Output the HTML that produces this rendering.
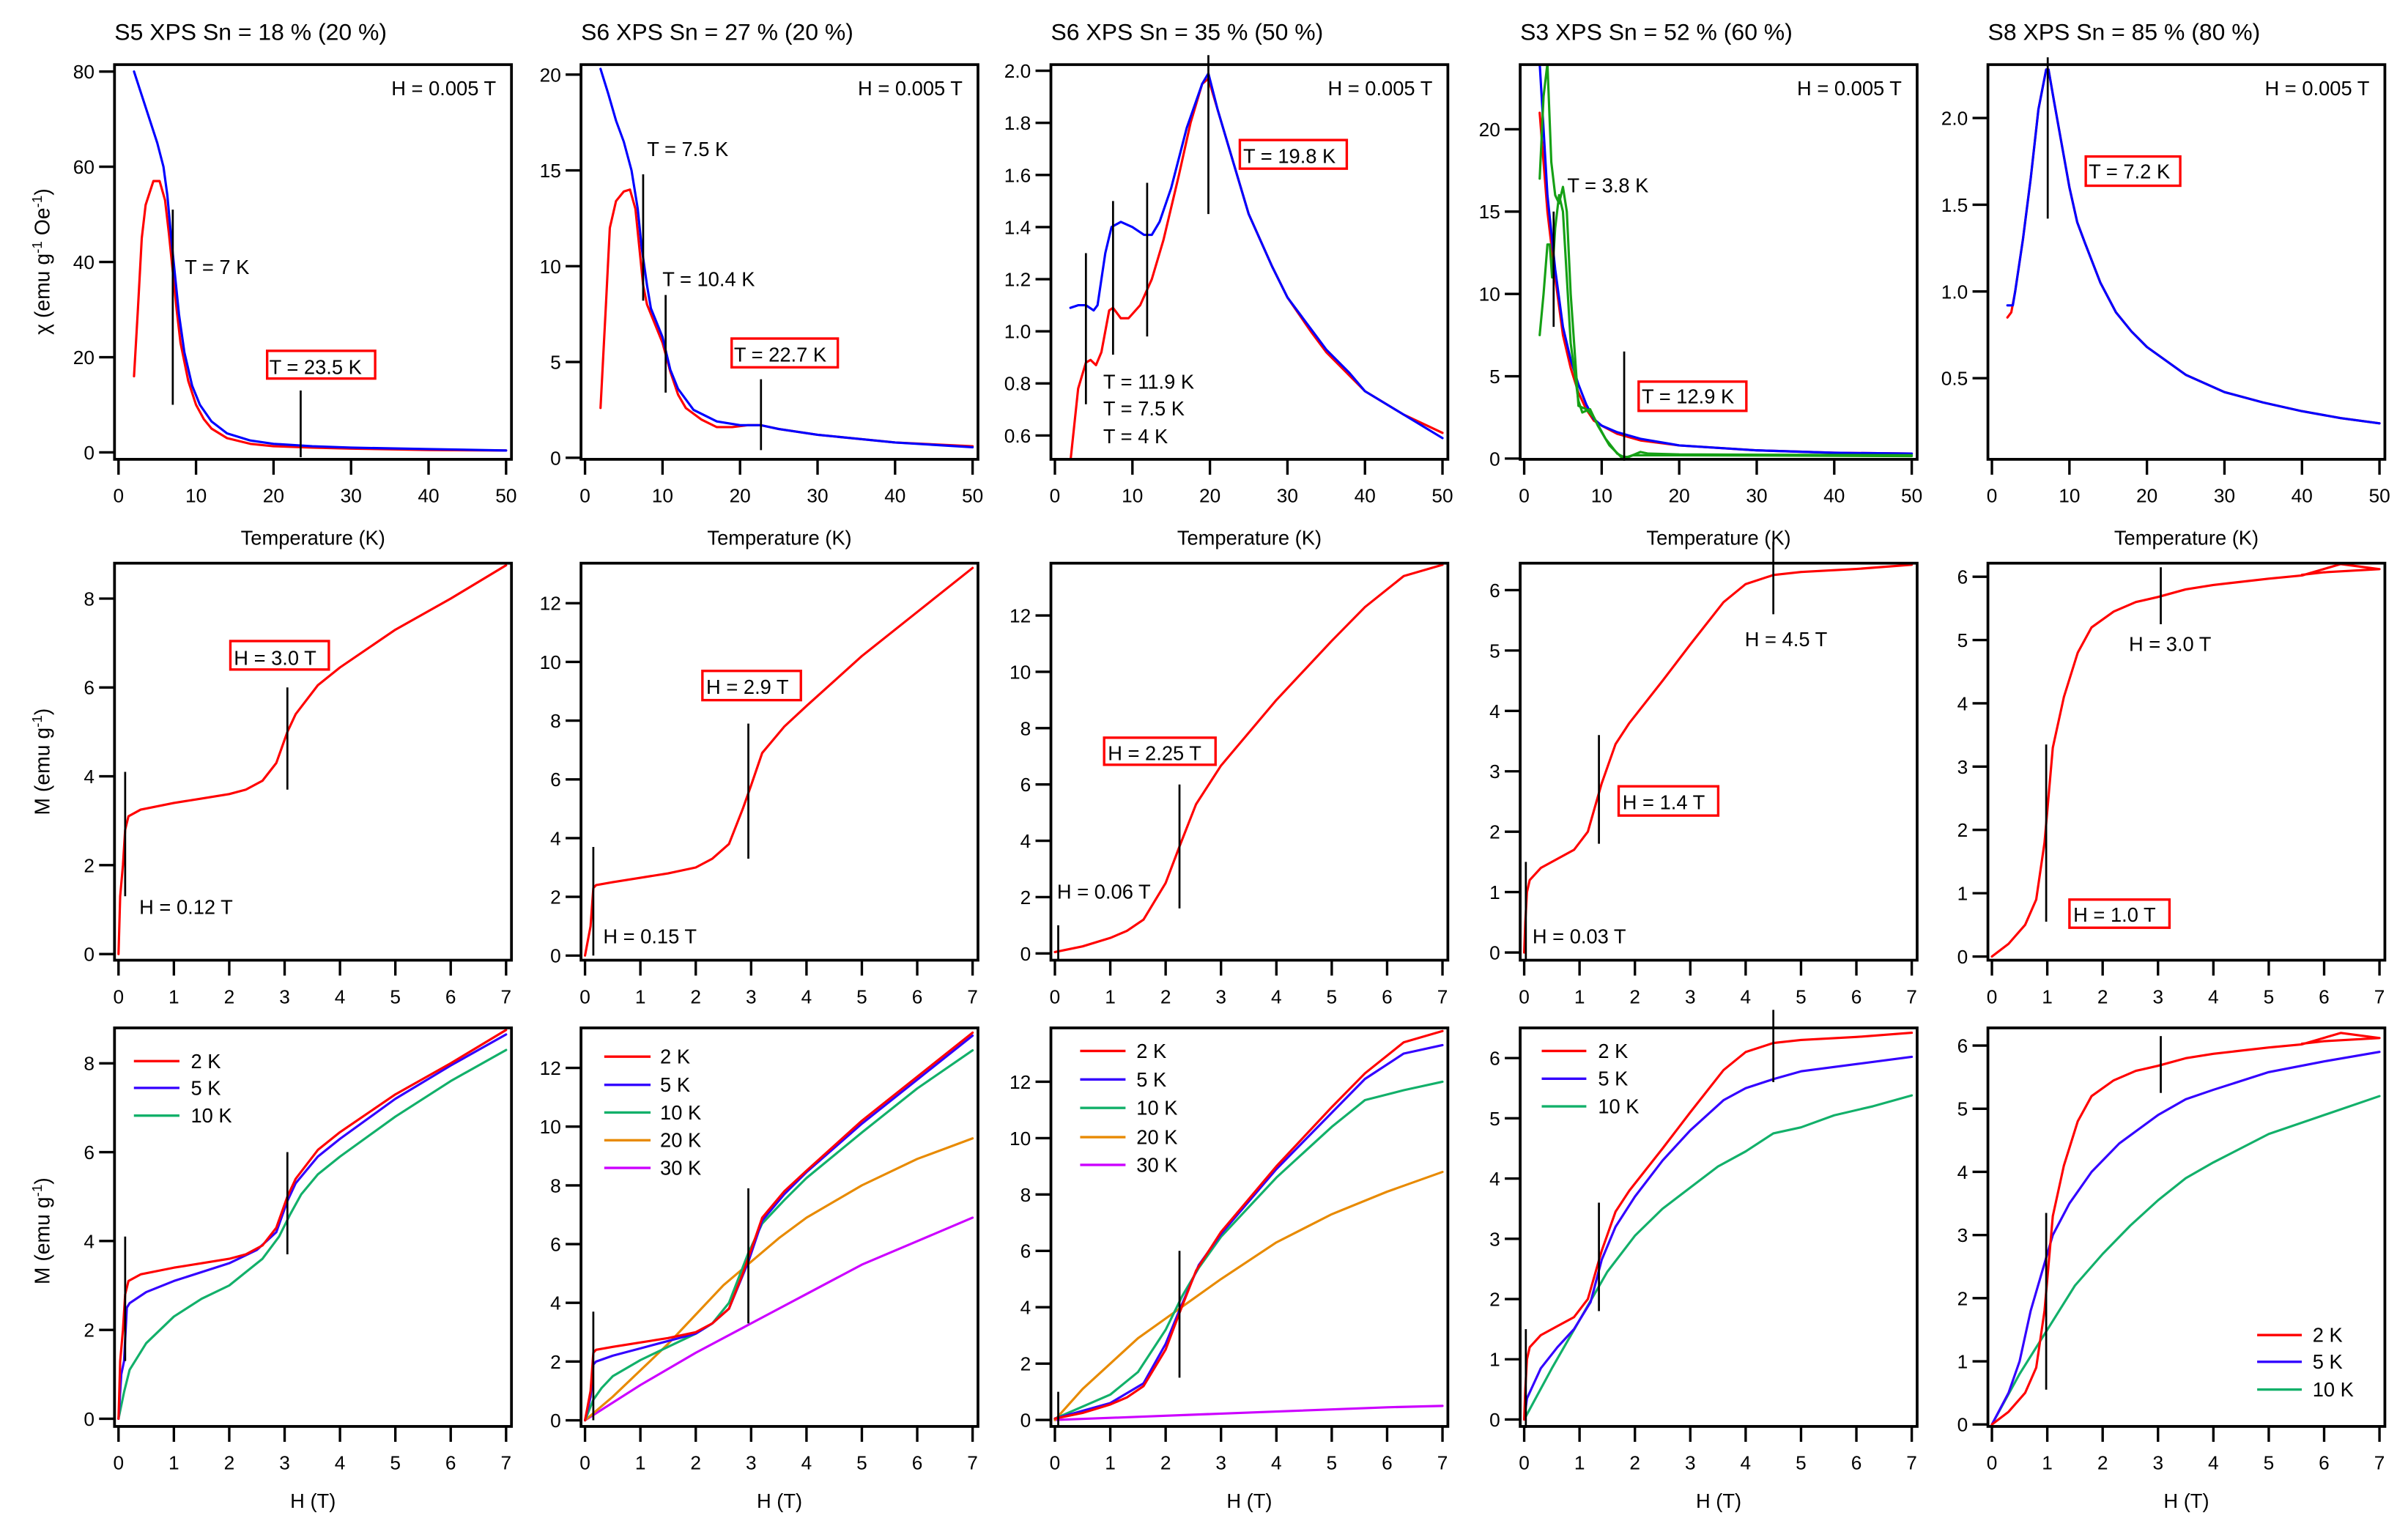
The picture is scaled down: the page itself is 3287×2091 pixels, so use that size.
<!DOCTYPE html>
<html><head><meta charset="utf-8"><style>
html,body{margin:0;padding:0;background:#fff;}
svg{display:block;}
text{font-family:"Liberation Sans",sans-serif;fill:#000;}
</style></head><body>
<svg id="fig" xmlns="http://www.w3.org/2000/svg" width="3287" height="2091" viewBox="0 0 1565 995.6"></svg>
<script>
// ---------- data ----------
const titles = ["S5 XPS Sn = 18 % (20 %)","S6 XPS Sn = 27 % (20 %)","S6 XPS Sn = 35 % (50 %)","S3 XPS Sn = 52 % (60 %)","S8 XPS Sn = 85 % (80 %)"];
// Row 1: chi vs T
const chiC1Red=[[2,16],[2.5,30],[3,45],[3.5,52],[4.5,57],[5.3,57],[6,53],[6.5,46],[7,38],[7.5,30],[8,23],[9,15],[10,10],[11,7],[12,5],[14,3],[17,1.8],[20,1.3],[25,1],[30,0.8],[40,0.5],[50,0.4]];
const chiC1Blue=[[2,80],[3,75],[4,70],[5,65],[5.8,60],[6.3,54],[6.8,45],[7.3,37],[7.8,29],[8.5,21],[9.5,14],[10.5,10],[12,6.5],[14,4],[17,2.5],[20,1.8],[25,1.3],[30,1],[40,0.7],[50,0.4]];
const chiC2Red=[[2,2.6],[2.7,8],[3.2,12],[4,13.4],[5,13.9],[5.8,14],[6.5,13],[7,11],[7.5,9],[8,8],[9,7],[10,6],[11,4.5],[12,3.3],[13,2.6],[15,2],[17,1.6],[19,1.6],[21,1.7],[22.7,1.7],[25,1.5],[30,1.2],[35,1],[40,0.8],[50,0.6]];
const chiC2Blue=[[2,20.3],[3,19],[4,17.6],[5,16.5],[6,15],[6.8,13],[7.3,11],[8,9],[8.5,7.8],[10,6.3],[11,4.6],[12,3.6],[14,2.5],[17,1.9],[20,1.7],[22.7,1.7],[25,1.5],[30,1.2],[35,1],[40,0.8],[50,0.55]];
const chiC3Red=[[2,0.5],[3,0.78],[4,0.88],[4.6,0.89],[5.3,0.87],[6,0.92],[7,1.08],[7.5,1.09],[8.5,1.05],[9.5,1.05],[11,1.1],[12.5,1.2],[14,1.35],[16,1.6],[17.5,1.8],[19,1.95],[19.8,1.97],[21,1.85],[23,1.65],[25,1.45],[28,1.25],[30,1.13],[33,1],[35,0.92],[38,0.83],[40,0.77],[45,0.68],[50,0.61]];
const chiC3Blue=[[2,1.09],[3,1.1],[4,1.1],[5,1.08],[5.5,1.1],[6.5,1.3],[7.3,1.4],[8.5,1.42],[10,1.4],[11.5,1.37],[12.5,1.37],[13.5,1.42],[15,1.55],[17,1.78],[19,1.95],[19.8,1.99],[21,1.85],[23,1.65],[25,1.45],[28,1.25],[30,1.13],[33,1.01],[35,0.93],[38,0.84],[40,0.77],[45,0.68],[50,0.59]];
const chiC4Red=[[2,21],[2.5,18],[3,15],[4,11],[5,7.5],[6,5.5],[7,4],[8,3],[9,2.3],[10,2],[12,1.5],[15,1.1],[20,0.8],[30,0.5],[40,0.35],[50,0.3]];
const chiC4Blue=[[2,24],[2.5,20],[3,16],[4,11.5],[5,8],[6,6],[7,4.5],[8,3.3],[9,2.4],[10,2],[12,1.6],[15,1.2],[20,0.8],[30,0.5],[40,0.35],[50,0.3]];
const chiC4GreenA=[[2,7.5],[2.5,10],[3,13],[3.3,13],[3.6,11],[4,14],[4.5,16],[5,15],[5.5,11],[6,7],[7,3.5],[7.5,2.8],[8.5,3],[9.5,2],[11,0.8],[12.5,0.1],[13.5,0.1],[15,0.4],[16,0.3],[20,0.25],[50,0.2]];
const chiC4GreenB=[[2,17],[2.5,22],[3,24],[3.5,18],[4,16],[4.5,15.5],[5,16.5],[5.5,15],[6,10],[7,3.2],[8,3],[9,2.5],[10.5,1.2],[12,0.3],[13,0.05],[14,0.2],[20,0.2],[50,0.15]];
const chiC5Red=[[2,0.85],[2.5,0.88],[3,1],[4,1.3],[5,1.65],[6,2.05],[7,2.28],[7.3,2.28],[8,2.1],[9,1.85],[10,1.6],[11,1.4],[12,1.28],[14,1.05],[16,0.88],[18,0.77],[20,0.68],[25,0.52],[30,0.42],[35,0.36],[40,0.31],[45,0.27],[50,0.24]];
const chiC5Blue=[[2,0.92],[2.7,0.92],[3,1],[4,1.3],[5,1.65],[6,2.05],[7,2.28],[7.3,2.28],[8,2.1],[9,1.85],[10,1.6],[11,1.4],[12,1.28],[14,1.05],[16,0.88],[18,0.77],[20,0.68],[25,0.52],[30,0.42],[35,0.36],[40,0.31],[45,0.27],[50,0.24]];
// Rows 2-3: M vs H
const mC1Red=[[0,0],[0.03,1.3],[0.08,2],[0.12,2.8],[0.18,3.1],[0.4,3.25],[1,3.4],[1.5,3.5],[2,3.6],[2.3,3.7],[2.6,3.9],[2.85,4.3],[3.05,5],[3.2,5.4],[3.6,6.05],[4,6.45],[5,7.3],[6,8],[7,8.75]];
const mC1Blue=[[0,0],[0.05,1],[0.1,1.3],[0.15,2.5],[0.2,2.6],[0.5,2.85],[1,3.1],[2,3.5],[2.5,3.8],[2.85,4.2],[3.05,4.9],[3.2,5.3],[3.6,5.9],[4,6.3],[5,7.2],[6,7.95],[7,8.65]];
const mC1Green=[[0,0],[0.1,0.6],[0.2,1.1],[0.5,1.7],[1,2.3],[1.5,2.7],[2,3],[2.3,3.3],[2.6,3.6],[2.9,4.1],[3.1,4.6],[3.3,5.05],[3.6,5.5],[4,5.9],[5,6.8],[6,7.6],[7,8.3]];
const mC2Red=[[0,0],[0.05,0.5],[0.1,1],[0.15,2.3],[0.2,2.4],[0.5,2.5],[1,2.65],[1.5,2.8],[2,3],[2.3,3.3],[2.6,3.8],[2.85,5],[3,5.8],[3.2,6.9],[3.6,7.8],[4,8.5],[5,10.2],[6,11.7],[7,13.2]];
const mC2Blue=[[0,0],[0.1,0.8],[0.15,1.9],[0.2,2],[0.5,2.2],[1,2.45],[1.5,2.7],[2,2.95],[2.3,3.3],[2.6,3.8],[2.95,5.4],[3.2,6.8],[3.6,7.7],[4,8.45],[5,10.1],[6,11.6],[7,13.1]];
const mC2Green=[[0,0],[0.15,0.7],[0.3,1.1],[0.5,1.5],[1,2.05],[1.5,2.5],[2,2.95],[2.3,3.3],[2.6,4],[2.95,5.7],[3.2,6.7],[3.6,7.5],[4,8.25],[5,9.8],[6,11.3],[7,12.6]];
const mC2Orange=[[0,0],[0.5,0.8],[1,1.7],[1.5,2.6],[2,3.6],[2.5,4.6],[3,5.4],[3.5,6.2],[4,6.9],[5,8],[6,8.9],[7,9.6]];
const mC2Purple=[[0,0],[1,1.2],[2,2.3],[3,3.3],[4,4.3],[5,5.3],[6,6.1],[7,6.9]];
const mC3Red=[[0,0.05],[0.5,0.25],[1,0.55],[1.3,0.8],[1.6,1.2],[2,2.5],[2.25,3.8],[2.55,5.3],[3,6.67],[4,9],[5,11.1],[5.6,12.3],[6.3,13.4],[7,13.8]];
const mC3Blue=[[0,0.05],[1,0.6],[1.6,1.3],[2,2.7],[2.25,3.9],[2.6,5.5],[3,6.6],[4,8.9],[5,10.9],[5.6,12.1],[6.3,13],[7,13.3]];
const mC3Green=[[0,0.05],[1,0.9],[1.5,1.7],[2,3.2],[2.3,4.4],[2.6,5.4],[3,6.5],[4,8.6],[5,10.4],[5.6,11.35],[6.3,11.7],[7,12]];
const mC3Orange=[[0,0],[0.5,1.1],[1,2],[1.5,2.9],[2,3.6],[2.5,4.3],[3,5],[4,6.3],[5,7.3],[6,8.1],[7,8.8]];
const mC3Purple=[[0,0],[2,0.15],[4,0.3],[6,0.45],[7,0.5]];
const mC4Red=[[0,0],[0.02,0.5],[0.05,1],[0.1,1.2],[0.3,1.4],[0.6,1.55],[0.9,1.7],[1.15,2],[1.4,2.8],[1.65,3.45],[1.9,3.8],[2.5,4.5],[3,5.1],[3.6,5.8],[4,6.1],[4.5,6.25],[5,6.3],[6,6.35],[7,6.42]];
const mC4Blue=[[0,0],[0.05,0.35],[0.15,0.55],[0.3,0.85],[0.6,1.2],[0.9,1.5],[1.2,1.95],[1.4,2.65],[1.65,3.2],[2,3.7],[2.5,4.3],[3,4.8],[3.6,5.3],[4,5.5],[4.5,5.65],[5,5.78],[6,5.9],[7,6.02]];
const mC4Green=[[0,0],[0.5,0.85],[1,1.65],[1.5,2.45],[2,3.05],[2.5,3.5],[3,3.85],[3.5,4.2],[4,4.45],[4.5,4.75],[5,4.85],[5.6,5.05],[6.3,5.2],[7,5.38]];
const mC5Red=[[0,0],[0.3,0.2],[0.6,0.5],[0.8,0.9],[0.95,1.8],[1.0,2.3],[1.1,3.3],[1.3,4.1],[1.55,4.8],[1.8,5.2],[2.2,5.45],[2.6,5.6],[3.0,5.68],[3.5,5.8],[4,5.87],[5,5.97],[5.6,6.02],[6.3,6.2],[7,6.12],[6,6.07],[5.6,6.03]];
const mC5Blue=[[0,0],[0.3,0.5],[0.5,1],[0.7,1.8],[0.9,2.4],[1.1,3],[1.4,3.5],[1.8,4],[2.3,4.45],[3,4.9],[3.5,5.15],[4,5.3],[5,5.58],[6,5.75],[7,5.9]];
const mC5Green=[[0,0],[0.5,0.8],[1,1.5],[1.5,2.2],[2,2.7],[2.5,3.15],[3,3.55],[3.5,3.9],[4,4.15],[5,4.6],[6,4.9],[7,5.2]];
const tempTicks=[0,10,20,30,40,50];
const fieldTicks=[0,1,2,3,4,5,6,7];

// ---------- layout ----------
const NS="http://www.w3.org/2000/svg";
const svg=document.getElementById('fig');
const colL=[74.4,377.6,683,988,1292];
const rowF=[[42,298.5],[366,624],[668,927]];
const RED="#ff0000",BLUE="#0000ff",BLUE2="#3300ff",GREEN="#12b06a",DGREEN="#15a015",ORANGE="#e88a00",PURPLE="#cc00ff";
function mk(tag,attrs,parent){const e=document.createElementNS(NS,tag);for(const k in attrs)e.setAttribute(k,attrs[k]);(parent||svg).appendChild(e);return e;}
function txt(s,x,y,size,anchor,parent){const t=mk('text',{x:x,y:y,'font-size':size,'text-anchor':anchor||'start'},parent);t.textContent=s;return t;}

function panel(c,r,cfg){
  const g=mk('g',{});
  
  
  const L=colL[c],R=L+258,T=rowF[r][0],B=rowF[r][1];
  const x0=L+2.6,x1=L+254.5,xmax=cfg.xmax;
  const X=v=>x0+(x1-x0)*v/xmax;
  const Y=v=>cfg.pA+(cfg.pB-cfg.pA)*(v-cfg.yA)/(cfg.yB-cfg.yA);
  const cid='clip'+r+c;
  const cp=mk('clipPath',{id:cid},g);mk('rect',{x:L,y:T,width:258,height:B-T},cp);
  // ticks
  const xt=mk('g',{},g);
  
  
  (r===0?tempTicks:fieldTicks).forEach(v=>{
    mk('line',{x1:X(v),x2:X(v),y1:B,y2:B+10,stroke:'#000','stroke-width':1.6},xt);
    const tl=txt(String(v),X(v),B+28,12.5,'middle',xt);
    
    
  });
  const yt=mk('g',{},g);
  
  
  cfg.yt.forEach(v=>{
    mk('line',{x1:L-10,x2:L,y1:Y(v),y2:Y(v),stroke:'#000','stroke-width':1.6},yt);
    const tl=txt(cfg.dec?v.toFixed(cfg.dec):String(v),L-13,Y(v)+4.5,12.5,'end',yt);
    
    
  });
  // series
  const sg=mk('g',{'clip-path':'url(#'+cid+')'},g);
  cfg.series.forEach(s=>{
    const p=mk('polyline',{points:s.d.map(q=>X(q[0]).toFixed(2)+','+Y(q[1]).toFixed(2)).join(' '),fill:'none',stroke:s.c,'stroke-width':1.5,'stroke-linejoin':'round','stroke-linecap':'round'},sg);
    
    
  });
  // markers
  (cfg.marks||[]).forEach(m=>{
    const ln=mk('line',{x1:X(m[0]),x2:X(m[0]),y1:Y(m[1]),y2:Math.min(Y(m[2]),B+1),stroke:'#000','stroke-width':1.3},g);
    
    
  });
  // frame
  const fr=mk('rect',{x:L,y:T,width:258,height:B-T,fill:'none',stroke:'#000','stroke-width':1.8},g);
  
  
  return g;
}

// row 1
const r1=[
 {xmax:50,yA:0,pA:294,yB:80,pB:46.5,yt:[0,20,40,60,80],series:[{d:chiC1Red,c:RED,n:'zfc-curve'},{d:chiC1Blue,c:BLUE,n:'fc-curve'}],marks:[[7,51,10],[23.5,13,-1]]},
 {xmax:50,yA:0,pA:297.5,yB:20,pB:48.5,yt:[0,5,10,15,20],series:[{d:chiC2Red,c:RED,n:'zfc-curve'},{d:chiC2Blue,c:BLUE,n:'fc-curve'}],marks:[[7.5,14.8,8.2],[10.4,8.5,3.4],[22.7,4.1,0.4]]},
 {xmax:50,yA:0.6,pA:283,yB:2.0,pB:46,yt:[0.6,0.8,1.0,1.2,1.4,1.6,1.8,2.0],dec:1,series:[{d:chiC3Red,c:RED,n:'zfc-curve'},{d:chiC3Blue,c:BLUE,n:'fc-curve'}],marks:[[4,1.30,0.72],[7.5,1.50,0.91],[11.9,1.57,0.98],[19.8,2.06,1.45]]},
 {xmax:50,yA:0,pA:298,yB:20,pB:84,yt:[0,5,10,15,20],series:[{d:chiC4Red,c:RED,n:'zfc-curve'},{d:chiC4Blue,c:BLUE,n:'fc-curve'},{d:chiC4GreenA,c:DGREEN,n:'ac-curve-a'},{d:chiC4GreenB,c:DGREEN,n:'ac-curve-b'}],marks:[[3.8,15,8],[12.9,6.5,-1]]},
 {xmax:50,yA:0.5,pA:245.8,yB:2.0,pB:76.7,yt:[0.5,1.0,1.5,2.0],dec:1,series:[{d:chiC5Red,c:RED,n:'zfc-curve'},{d:chiC5Blue,c:BLUE,n:'fc-curve'}],marks:[[7.2,2.35,1.42]]}
];
const r2=[
 {xmax:7,yA:0,pA:620,yB:8,pB:389,yt:[0,2,4,6,8],series:[{d:mC1Red,c:RED,n:'m-2k-curve'}],marks:[[0.12,4.1,1.3],[3.05,6,3.7]]},
 {xmax:7,yA:0,pA:621,yB:12,pB:392,yt:[0,2,4,6,8,10,12],series:[{d:mC2Red,c:RED,n:'m-2k-curve'}],marks:[[0.15,3.7,0],[2.95,7.9,3.3]]},
 {xmax:7,yA:0,pA:619.6,yB:12,pB:400,yt:[0,2,4,6,8,10,12],series:[{d:mC3Red,c:RED,n:'m-2k-curve'}],marks:[[0.06,1,-0.2],[2.25,6,1.6]]},
 {xmax:7,yA:0,pA:619,yB:6,pB:383.5,yt:[0,1,2,3,4,5,6],series:[{d:mC4Red,c:RED,n:'m-2k-curve'}],marks:[[0.03,1.5,-0.2],[1.35,3.6,1.8],[4.5,6.8,5.6]]},
 {xmax:7,yA:0,pA:621.6,yB:6,pB:374.8,yt:[0,1,2,3,4,5,6],series:[{d:mC5Red,c:RED,n:'m-2k-curve'}],marks:[[0.98,3.35,0.55],[3.05,6.15,5.25]]}
];
const r3=[
 {xmax:7,yA:0,pA:922,yB:8,pB:691,yt:[0,2,4,6,8],series:[{d:mC1Green,c:GREEN,n:'m-10k-curve'},{d:mC1Blue,c:BLUE2,n:'m-5k-curve'},{d:mC1Red,c:RED,n:'m-2k-curve'}],marks:[[0.12,4.1,1.3],[3.05,6,3.7]]},
 {xmax:7,yA:0,pA:923,yB:12,pB:694,yt:[0,2,4,6,8,10,12],series:[{d:mC2Purple,c:PURPLE,n:'m-30k-curve'},{d:mC2Orange,c:ORANGE,n:'m-20k-curve'},{d:mC2Green,c:GREEN,n:'m-10k-curve'},{d:mC2Blue,c:BLUE2,n:'m-5k-curve'},{d:mC2Red,c:RED,n:'m-2k-curve'}],marks:[[0.15,3.7,0],[2.95,7.9,3.3]]},
 {xmax:7,yA:0,pA:922.8,yB:12,pB:703,yt:[0,2,4,6,8,10,12],series:[{d:mC3Purple,c:PURPLE,n:'m-30k-curve'},{d:mC3Orange,c:ORANGE,n:'m-20k-curve'},{d:mC3Green,c:GREEN,n:'m-10k-curve'},{d:mC3Blue,c:BLUE2,n:'m-5k-curve'},{d:mC3Red,c:RED,n:'m-2k-curve'}],marks:[[0.06,1,-0.2],[2.25,6,1.5]]},
 {xmax:7,yA:0,pA:922.5,yB:6,pB:687.6,yt:[0,1,2,3,4,5,6],series:[{d:mC4Green,c:GREEN,n:'m-10k-curve'},{d:mC4Blue,c:BLUE2,n:'m-5k-curve'},{d:mC4Red,c:RED,n:'m-2k-curve'}],marks:[[0.03,1.5,-0.2],[1.35,3.6,1.8],[4.5,6.8,5.6]]},
 {xmax:7,yA:0,pA:925.7,yB:6,pB:679.5,yt:[0,1,2,3,4,5,6],series:[{d:mC5Green,c:GREEN,n:'m-10k-curve'},{d:mC5Blue,c:BLUE2,n:'m-5k-curve'},{d:mC5Red,c:RED,n:'m-2k-curve'}],marks:[[0.98,3.35,0.55],[3.05,6.15,5.25]]}
];
r1.forEach((cfg,c)=>panel(c,0,cfg));
r2.forEach((cfg,c)=>panel(c,1,cfg));
r3.forEach((cfg,c)=>panel(c,2,cfg));

// titles and axis titles
titles.forEach((s,c)=>{
  const t=txt(s,colL[c],26,15,'start');
  t.setAttribute('textLength','177');t.setAttribute('lengthAdjust','spacingAndGlyphs');
  
  
  const xl=txt('Temperature (K)',colL[c]+129,354,13,'middle');
  
  
  const hl=txt('H (T)',colL[c]+129,980,13,'middle');
  
  
  const hf=txt('H = 0.005 T',colL[c]+248,62,13,'end');
  
  
});
function ytitle(html,cy){
  const t=mk('text',{x:0,y:0,'font-size':13.5,'text-anchor':'middle',transform:'translate(32,'+cy+') rotate(-90)'});
  t.innerHTML=html;
  
  
}
ytitle('χ (emu g<tspan dy="-5" font-size="9">-1</tspan><tspan dy="5"> Oe</tspan><tspan dy="-5" font-size="9">-1</tspan><tspan dy="5">)</tspan>',170);
ytitle('M (emu g<tspan dy="-5" font-size="9">-1</tspan><tspan dy="5">)</tspan>',495);
ytitle('M (emu g<tspan dy="-5" font-size="9">-1</tspan><tspan dy="5">)</tspan>',800);

// annotations [text,x,baseline,boxed,box]
const notes=[
 ['T = 7 K',120,178,0],['T = 23.5 K',175,243,[173.6,228,70.2,18]],
 ['T = 7.5 K',420.5,101.5,0],['T = 10.4 K',430.5,186,0],['T = 22.7 K',477,235,[475.5,220,69,18.7]],
 ['T = 19.8 K',808,106,[805.8,91,69.5,18.6]],['T = 11.9 K',717,252.5,0],['T = 7.5 K',717,270,0],['T = 4 K',717,288,0],
 ['T = 3.8 K',1018.6,125,0],['T = 12.9 K',1067,262,[1065,248,70,19]],
 ['T = 7.2 K',1357.5,116,[1355.6,101.7,61.4,19]],
 ['H = 3.0 T',152,432,[149.7,416.6,64,18.5]],['H = 0.12 T',90.5,594,0],
 ['H = 2.9 T',459,451,[456.5,436,64,19]],['H = 0.15 T',392,613,0],
 ['H = 2.25 T',720,494,[717.6,479.4,72.4,17.6]],['H = 0.06 T',687,584,0],
 ['H = 1.4 T',1054.5,526,[1052,511,64.7,19]],['H = 0.03 T',996,613,0],['H = 4.5 T',1134,420,0],
 ['H = 3.0 T',1383.6,423,0],['H = 1.0 T',1347.5,599,[1345,584.6,65,18.3]]
];
notes.forEach(n=>{
  if(n[3]){const b=mk('rect',{x:n[3][0],y:n[3][1],width:n[3][2],height:n[3][3],fill:'none',stroke:RED,'stroke-width':1.6});
    
    }
  const t=txt(n[0],n[1],n[2],13,'start');
  
  
});

// legends
const legLabels5=['2 K','5 K','10 K','20 K','30 K'];
const legColors5=[RED,BLUE2,GREEN,ORANGE,PURPLE];
const legends=[
 {x1:87,x2:116.6,tx:124,ys:[689.6,707,725],n:3},
 {x1:392.7,x2:422.8,tx:429,ys:[686.7,705,723,741,759],n:5},
 {x1:702,x2:731.5,tx:738.6,ys:[683,701.5,720,739,757],n:5},
 {x1:1002,x2:1031,tx:1038.6,ys:[683,701,719],n:3},
 {x1:1467,x2:1496,tx:1503,ys:[867.6,885,903],n:3}
];
legends.forEach(lg=>{
  const g=mk('g',{});
  
  
  for(let i=0;i<lg.n;i++){
    const e=mk('g',{},g);
    
    
    mk('line',{x1:lg.x1,x2:lg.x2,y1:lg.ys[i],y2:lg.ys[i],stroke:legColors5[i],'stroke-width':1.6},e);
    txt(legLabels5[i],lg.tx,lg.ys[i]+4.5,13,'start',e);
  }
});
</script>
</body></html>
